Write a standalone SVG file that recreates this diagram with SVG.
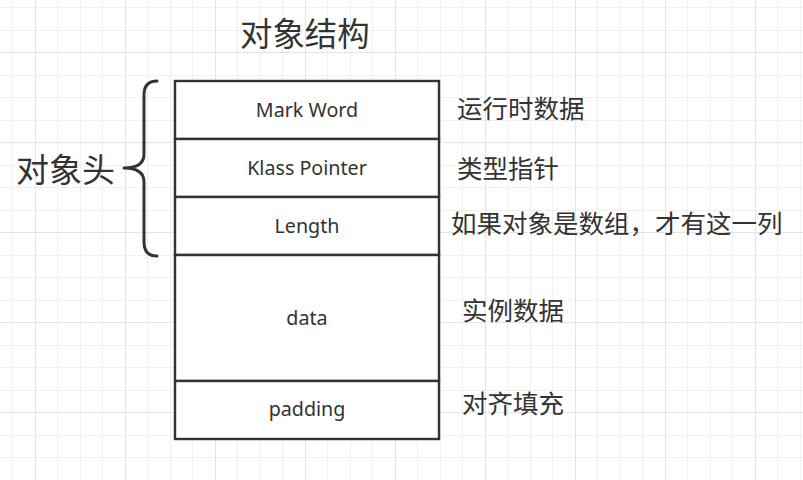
<svg xmlns="http://www.w3.org/2000/svg" width="803" height="480" viewBox="0 0 803 480">
  <defs>
    <pattern id="grid" patternUnits="userSpaceOnUse" x="35" y="52" width="90" height="90">
      <rect x="0" y="0" width="90" height="90" fill="#ffffff"/>
      <rect x="22" y="0" width="1" height="90" fill="#f0f0f0"/>
      <rect x="45" y="0" width="1" height="90" fill="#f0f0f0"/>
      <rect x="67" y="0" width="1" height="90" fill="#f0f0f0"/>
      <rect x="0" y="23" width="90" height="1" fill="#f0f0f0"/>
      <rect x="0" y="45" width="90" height="1" fill="#f0f0f0"/>
      <rect x="0" y="68" width="90" height="1" fill="#f0f0f0"/>
      <rect x="0" y="0" width="1" height="90" fill="#e4e4e4"/>
      <rect x="0" y="0" width="90" height="1" fill="#e4e4e4"/>
    </pattern>
  </defs>
  <style>
    .cell { fill: #ffffff; stroke: #333333; stroke-width: 2.4; }
    .lbl { font-family: "Noto Sans", "Noto Sans CJK SC", sans-serif; font-size: 19.7px; fill: #333333; text-anchor: middle; }
    .note { font-family: "Noto Sans CJK SC", "Noto Sans", sans-serif; font-size: 25.5px; fill: #333333; }
    .big { font-family: "Noto Sans CJK SC", "Noto Sans", sans-serif; fill: #333333; }
    .brace { fill: none; stroke: #333333; stroke-width: 3; stroke-linecap: round; stroke-linejoin: round; }
  </style>
  <rect x="0" y="0" width="803" height="480" fill="url(#grid)"/>

  <g id="title">
    <text class="big" x="240" y="46" font-size="32.4">对象结构</text>
  </g>

  <g id="header-label">
    <text class="big" x="16" y="182" font-size="33">对象头</text>
  </g>

  <g id="header-brace">
    <path class="brace" d="M157,81 Q144,81 144,95 L144,154 Q144,168 124,168 Q144,168 144,182 L144,242 Q144,256 157,256"/>
  </g>

  <g id="mark-word">
    <rect class="cell" x="175" y="81" width="264" height="58"/>
    <text class="lbl" x="307" y="117">Mark Word</text>
  </g>
  <g id="klass-pointer">
    <rect class="cell" x="175" y="139" width="264" height="58"/>
    <text class="lbl" x="307" y="175">Klass Pointer</text>
  </g>
  <g id="length">
    <rect class="cell" x="175" y="197" width="264" height="58"/>
    <text class="lbl" x="307" y="233">Length</text>
  </g>
  <g id="data">
    <rect class="cell" x="175" y="255" width="264" height="126"/>
    <text class="lbl" x="307" y="325">data</text>
  </g>
  <g id="padding">
    <rect class="cell" x="175" y="381" width="264" height="58"/>
    <text class="lbl" x="307" y="416">padding</text>
  </g>

  <g id="note-mark-word">
    <text class="note" x="457" y="118">运行时数据</text>
  </g>
  <g id="note-klass-pointer">
    <text class="note" x="457" y="178">类型指针</text>
  </g>
  <g id="note-length">
    <text class="note" x="451" y="233">如果对象是数组，才有这一列</text>
  </g>
  <g id="note-data">
    <text class="note" x="462" y="320">实例数据</text>
  </g>
  <g id="note-padding">
    <text class="note" x="462" y="413">对齐填充</text>
  </g>
</svg>
